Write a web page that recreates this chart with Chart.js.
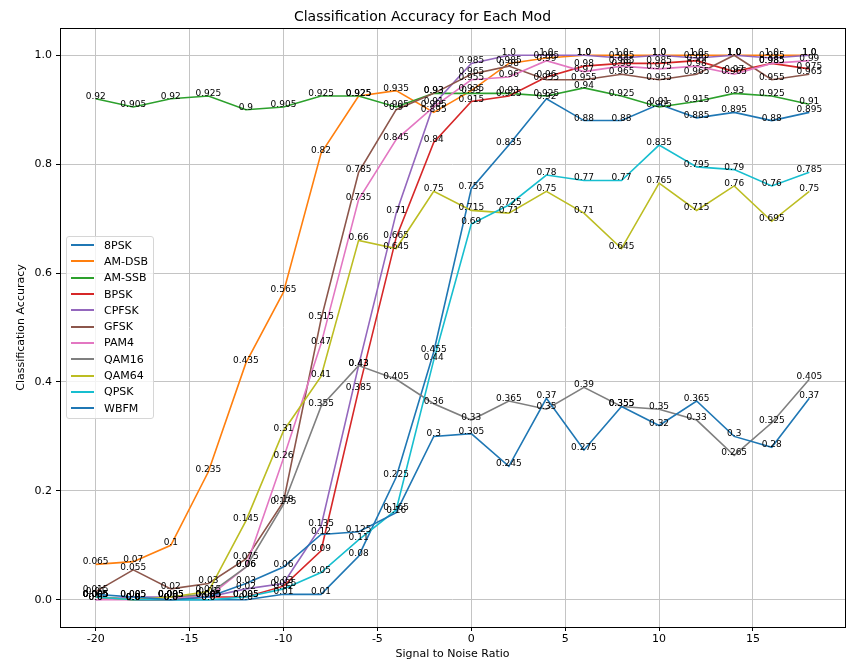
<!DOCTYPE html>
<html>
<head>
<meta charset="utf-8">
<script src="https://cdn.jsdelivr.net/npm/chart.js@4"></script>
<style>
  body { margin: 0; background: #fff; }
  #wrap { position: relative; width: 846px; height: 667px; }
  #legend {
    position: absolute; left: 66px; top: 236px; width: 86px;
    padding: 0 0 2px 0;
    background: rgba(255,255,255,0.8);
    border: 1px solid #d6d6d6; border-radius: 3px;
    font: 11px "DejaVu Sans", sans-serif; color: #000;
  }
  #legend .row { height: 16.3px; display: flex; align-items: center; }
  #legend .swatch { width: 23px; height: 2px; margin: 0 10px 0 4px; }
</style>
</head>
<body>
<div id="wrap">
  <canvas id="chart" width="846" height="667"></canvas>
  <div id="legend"></div>
</div>
<script>
const SNR = [-20, -18, -16, -14, -12, -10, -8, -6, -4, -2, 0, 2, 4, 6, 8, 10, 12, 14, 16, 18];
const X_TICKS = [-20, -15, -10, -5, 0, 5, 10, 15];
const Y_TICKS = [0, 0.2, 0.4, 0.6, 0.8, 1.0];

const MODS = ['8PSK', 'AM-DSB', 'AM-SSB', 'BPSK', 'CPFSK', 'GFSK', 'PAM4', 'QAM16', 'QAM64', 'QPSK', 'WBFM'];
const COLORS = ['#1f77b4', '#ff7f0e', '#2ca02c', '#d62728', '#9467bd', '#8c564b', '#e377c2', '#7f7f7f', '#bcbd22', '#17becf', '#1f77b4'];

// accuracy per SNR
const acc8PSK  = [0.005, 0.0, 0.0, 0.0, 0.0, 0.01, 0.01, 0.08, 0.225, 0.455, 0.755, 0.835, 0.92, 0.88, 0.88, 0.91, 0.885, 0.895, 0.88, 0.895];
const accAMDSB = [0.065, 0.07, 0.1, 0.235, 0.435, 0.565, 0.82, 0.925, 0.935, 0.895, 0.935, 0.985, 0.995, 1.0, 1.0, 1.0, 1.0, 1.0, 1.0, 1.0];
const accAMSSB = [0.92, 0.905, 0.92, 0.925, 0.9, 0.905, 0.925, 0.925, 0.905, 0.93, 0.93, 0.93, 0.925, 0.94, 0.925, 0.905, 0.915, 0.93, 0.925, 0.91];
const accBPSK  = [0.005, 0.0, 0.0, 0.005, 0.005, 0.025, 0.09, 0.385, 0.665, 0.84, 0.915, 0.925, 0.96, 0.98, 0.985, 0.985, 0.99, 0.97, 0.985, 0.975];
const accCPFSK = [0.0, 0.005, 0.005, 0.005, 0.02, 0.03, 0.135, 0.43, 0.71, 0.91, 0.985, 1.0, 1.0, 1.0, 0.995, 1.0, 0.995, 1.0, 0.995, 1.0];
const accGFSK  = [0.015, 0.055, 0.02, 0.03, 0.075, 0.18, 0.515, 0.785, 0.9, 0.93, 0.965, 0.98, 0.955, 0.955, 0.965, 0.955, 0.965, 1.0, 0.955, 0.965];
const accPAM4  = [0.0, 0.0, 0.005, 0.005, 0.06, 0.26, 0.47, 0.735, 0.845, 0.905, 0.955, 0.96, 0.99, 0.97, 0.98, 0.975, 0.98, 0.965, 0.985, 0.99];
const accQAM16 = [0.005, 0.0, 0.005, 0.01, 0.06, 0.175, 0.355, 0.43, 0.405, 0.36, 0.33, 0.365, 0.35, 0.39, 0.355, 0.35, 0.33, 0.265, 0.325, 0.405];
const accQAM64 = [0.005, 0.0, 0.005, 0.015, 0.145, 0.31, 0.41, 0.66, 0.645, 0.75, 0.715, 0.71, 0.75, 0.71, 0.645, 0.765, 0.715, 0.76, 0.695, 0.75];
const accQPSK  = [0.005, 0.0, 0.0, 0.0, 0.005, 0.02, 0.05, 0.11, 0.165, 0.44, 0.69, 0.725, 0.78, 0.77, 0.77, 0.835, 0.795, 0.79, 0.76, 0.785];
const accWBFM  = [0.01, 0.005, 0.0, 0.005, 0.03, 0.06, 0.12, 0.125, 0.16, 0.3, 0.305, 0.245, 0.37, 0.275, 0.355, 0.32, 0.365, 0.3, 0.28, 0.37];

const SERIES = [acc8PSK, accAMDSB, accAMSSB, accBPSK, accCPFSK, accGFSK, accPAM4, accQAM16, accQAM64, accQPSK, accWBFM];

const FONT = '"DejaVu Sans", sans-serif';

// python-ish str(float)
const fmt = v => (v % 1 === 0 ? v.toFixed(1) : String(v));

// black frame around the plot area (all four spines)
const framePlugin = {
  id: 'frame',
  afterDatasetsDraw(chart) {
    const { ctx, chartArea: a } = chart;
    ctx.save();
    ctx.strokeStyle = '#000';
    ctx.lineWidth = 1;
    ctx.strokeRect(Math.round(a.left) + 0.5, Math.round(a.top) + 0.5, Math.round(a.right - a.left), Math.round(a.bottom - a.top));
    ctx.restore();
  },
};

// value text at every point, centred above it
const valueLabels = {
  id: 'valueLabels',
  afterDatasetsDraw(chart) {
    const { ctx } = chart;
    ctx.save();
    ctx.font = '9px ' + FONT;
    ctx.fillStyle = '#000';
    ctx.textAlign = 'center';
    ctx.textBaseline = 'alphabetic';
    chart.data.datasets.forEach((ds, i) => {
      const meta = chart.getDatasetMeta(i);
      meta.data.forEach((pt, j) => {
        ctx.fillText(fmt(ds.data[j].y), pt.x, pt.y);
      });
    });
    ctx.restore();
  },
};

const datasets = MODS.map((name, i) => ({
  label: name,
  data: SNR.map((x, j) => ({ x, y: SERIES[i][j] })),
  borderColor: COLORS[i],
  backgroundColor: COLORS[i],
  borderWidth: 1.6,
  pointRadius: 0,
  tension: 0,
  order: MODS.length - i,
}));

new Chart(document.getElementById('chart'), {
  type: 'line',
  data: { datasets },
  plugins: [framePlugin, valueLabels],
  options: {
    responsive: false,
    animation: false,
    layout: { padding: { top: 0, right: 1, left: 0, bottom: 0 } },
    plugins: {
      legend: { display: false },
      tooltip: { enabled: false },
      title: {
        display: true,
        text: 'Classification Accuracy for Each Mod',
        color: '#000',
        font: { family: FONT, size: 14, weight: 'normal' },
        padding: { top: 9, bottom: 2.2 },
      },
    },
    scales: {
      x: {
        type: 'linear',
        min: -21.9,
        max: 19.9,
        afterFit: s => { s.height = 40; },
        afterBuildTicks: s => { s.ticks = X_TICKS.map(v => ({ value: v })); },
        border: { display: false },
        grid: { color: '#c4c4c4', lineWidth: 1, tickLength: 4, tickColor: '#000' },
        ticks: { color: '#000', font: { family: FONT, size: 11 }, padding: 2, maxRotation: 0, callback: v => String(v) },
        title: { display: true, text: 'Signal to Noise Ratio', color: '#000', font: { family: FONT, size: 11 }, padding: { top: 0, bottom: 6 } },
      },
      y: {
        type: 'linear',
        min: -0.05,
        max: 1.05,
        afterFit: s => { s.width = 60; },
        afterBuildTicks: s => { s.ticks = Y_TICKS.map(v => ({ value: v })); },
        border: { display: false },
        grid: { color: '#c4c4c4', lineWidth: 1, tickLength: 4, tickColor: '#000' },
        ticks: { color: '#000', font: { family: FONT, size: 11 }, padding: 4, callback: v => v.toFixed(1) },
        title: { display: true, text: 'Classification Accuracy', color: '#000', font: { family: FONT, size: 11 }, padding: { top: 15, bottom: 0 } },
      },
    },
  },
});

// legend box inside the plot, upper-left of the middle
const legend = document.getElementById('legend');
MODS.forEach((name, i) => {
  const row = document.createElement('div');
  row.className = 'row';
  row.innerHTML = `<span class="swatch" style="background:${COLORS[i]}"></span><span>${name}</span>`;
  legend.appendChild(row);
});
</script>
</body>
</html>
